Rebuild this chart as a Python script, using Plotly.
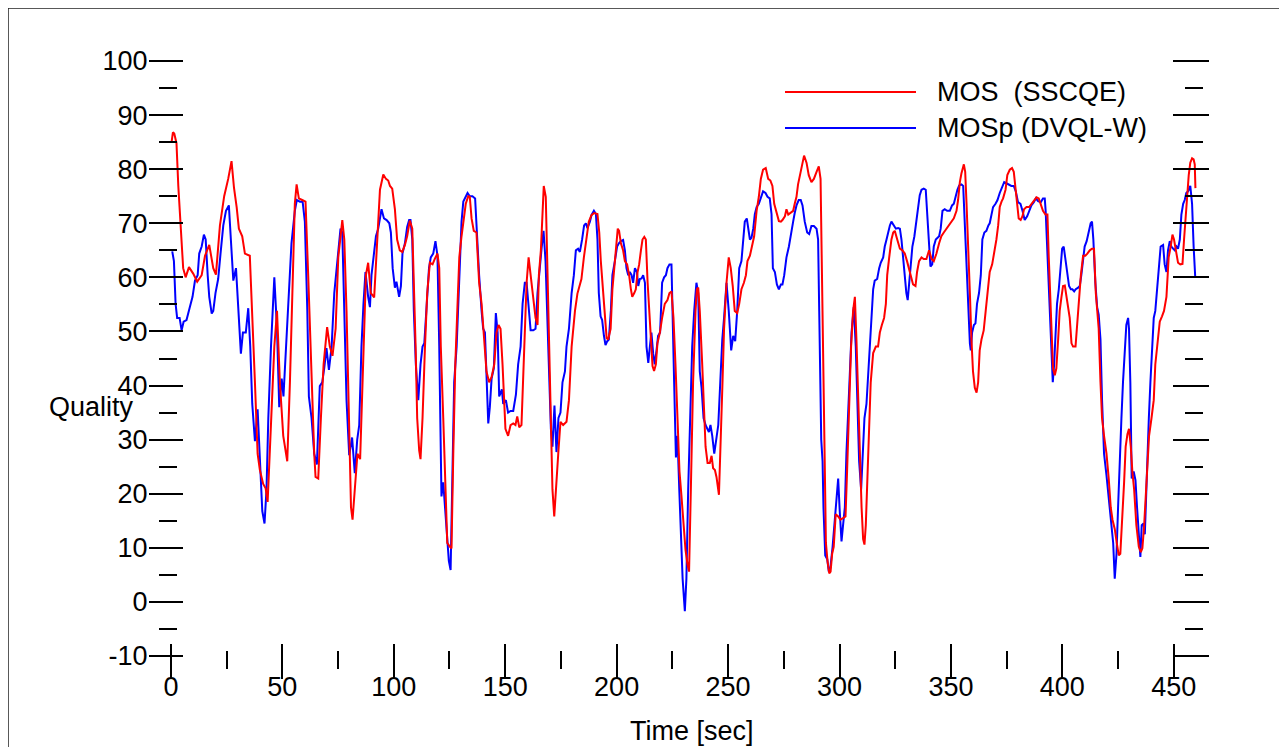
import plotly.graph_objects as go

# ---------------- data ----------------
time_mos = [0.3, 0.9, 1.5, 2.5, 3.3, 4.3, 5.5, 6.6, 8.1, 10.0, 11.8, 13.8, 15.3, 17.2, 19.0, 20.2, 22.0, 23.9, 25.7, 27.2,
            28.3, 29.5, 30.5, 32.0, 33.2, 35.4, 36.5, 37.7, 38.9, 39.9, 41.4, 42.5, 43.4, 44.9, 46.4, 47.6, 48.9, 50.4, 52.2, 53.4,
            54.6, 55.6, 56.4, 57.4, 58.9, 60.4, 61.6, 63.1, 64.3, 64.9, 66.1, 67.3, 68.5, 70.1, 71.3, 72.5, 73.9, 75.1, 76.9, 77.8,
            78.8, 79.9, 80.8, 81.5, 82.6, 83.7, 84.9, 86.3, 87.5, 88.5, 89.7, 91.2,
            92.6, 93.8, 95.3, 96.5, 97.5, 98.3, 99.3, 100.5, 101.5, 102.7, 103.8, 105.0, 106.0, 107.2, 108.3, 109.0, 109.8, 110.5,
            111.4, 112.0, 112.9, 114.0, 115.0, 116.2, 117.4, 118.4, 119.6, 120.4, 121.1, 122.2, 123.1, 124.0, 125.2, 125.9, 126.7,
            127.6, 128.5, 129.4, 130.4, 131.6, 132.3, 133.4, 134.1, 134.9, 135.9, 137.1, 138.3, 139.4, 140.6, 141.6, 142.8, 143.9,
            145.1, 146.1, 147.0, 147.9, 148.8, 149.7, 150.1, 151.3, 152.4, 153.6, 154.6, 155.4, 156.3, 157.3, 158.4, 159.6, 160.5,
            161.4, 162.6, 163.6, 164.5, 165.1, 166.0, 166.7, 167.3, 168.2, 169.3, 170.3, 171.2, 172.0, 172.7, 173.8, 174.8, 176.0,
            177.5, 178.6, 179.8, 181.3, 182.4, 183.5,
            184.2, 185.3, 186.5, 187.5, 188.7, 189.9, 191.4, 192.2, 192.9, 194.0, 194.7, 195.5, 196.2, 197.3, 198.1, 199.2, 199.9,
            200.5, 201.1, 201.9, 202.9, 203.7, 204.7, 205.6, 206.4, 207.0, 207.9, 208.6, 209.4, 210.1, 210.9, 211.6, 212.4, 213.1,
            213.9, 214.6, 215.3, 216.1, 216.8, 217.6, 218.3, 219.4, 220.4, 221.6, 222.8, 223.7, 224.6, 225.5, 226.4, 227.3, 228.2,
            229.1, 230.0, 230.9, 231.8, 232.5, 233.3, 234.3, 235.4, 236.0, 236.6, 237.3, 238.4, 239.3, 239.9, 240.8, 241.8, 242.6,
            243.3, 244.1, 244.8, 245.9, 246.6, 247.5, 248.2, 249.3, 250.3, 251.2, 252.1, 253.0, 254.1, 255.0, 256.0, 257.1, 258.0,
            258.7, 259.8, 260.8, 261.7, 262.8, 263.8, 264.7, 265.7, 266.9, 268.0, 269.0, 269.9, 270.7, 271.7, 272.8, 273.7,
            274.4, 275.5, 276.2, 277.0, 278.0, 279.2, 279.9, 280.7, 281.4, 282.5, 283.4, 284.1, 285.2, 286.2, 287.4, 288.5, 289.7,
            290.7, 291.5, 291.9, 292.4, 292.9, 293.4, 293.9, 294.6, 295.4, 296.0, 296.7, 297.4, 298.3, 299.4, 300.4, 301.6, 302.7,
            303.4, 304.3, 305.2, 306.1, 306.9, 307.6, 308.4, 309.1, 309.9, 310.6, 311.2, 311.8, 312.6, 313.3, 314.0, 315.1, 316.3,
            317.3, 318.1, 319.0, 320.0, 320.8, 321.4, 322.3, 323.3, 324.1, 324.8, 325.9, 327.1, 328.2, 329.3, 330.3, 331.2, 332.3,
            333.0, 334.1, 334.8, 335.7, 336.8, 337.8, 339.0, 340.2, 341.3, 342.3, 343.5, 344.7, 345.7, 346.8, 348.0, 349.2, 350.2,
            351.3, 352.5, 353.2, 354.0, 354.7, 355.8, 356.4, 357.0, 357.7, 358.5, 359.2, 359.9, 360.7, 361.5, 362.2, 362.9, 363.7,
            364.7, 365.6, 366.7, 367.4,
            368.5, 369.4, 370.4, 371.2, 371.9, 372.7, 373.4, 374.5, 375.3, 376.4, 377.4, 378.2, 378.9, 379.7, 380.4, 381.3, 382.1,
            382.8, 383.9, 385.1, 386.1, 387.3, 388.4, 389.4, 390.3, 391.3, 392.4, 393.3, 393.9, 394.5, 395.1, 395.8, 396.6, 397.3,
            398.1, 398.8, 399.6, 400.3, 401.1, 401.8, 402.6, 403.3, 404.1, 404.8, 405.9, 406.6, 407.4, 408.3, 409.3, 410.3, 411.2,
            412.3, 413.3, 414.2, 415.0, 415.7, 416.3, 417.1, 417.8, 418.7, 419.8, 420.8, 421.7, 422.5, 423.5, 424.4, 425.3, 426.0,
            426.8, 427.7, 428.4, 429.2, 429.9, 430.7, 431.4, 432.2, 433.2, 434.3, 435.2, 435.9, 436.7, 437.4, 438.2, 438.9, 440.0,
            441.0, 441.7, 442.6, 443.7, 444.7, 445.6, 446.7, 447.1, 447.7, 448.6, 449.4, 450.1, 450.9, 451.9, 452.9, 453.9, 454.6,
            455.4, 456.1, 456.7, 457.4, 458.2, 458.9, 459.4, 459.7]
mos = [85.0, 86.8, 86.6, 84.8, 77, 69, 61.7, 60, 61.9, 60.7, 59.2, 60.4, 64, 66, 61.7, 60.5, 69.6, 75, 78.2, 81.5,
       76.6, 73, 69, 67.6, 64.4, 64, 53.8, 40.6, 27.4, 24.4, 21.8, 21, 18.5, 34, 47.2, 53.8, 40.6, 30.7, 26, 40.6,
       60.4, 73.6, 77.2, 74.6, 74.3, 74, 60.4, 40.6, 27.4, 23.1, 22.8, 34, 43.9, 50.8, 47.2, 45.5, 50.5, 63.7, 70.6, 67,
       53.8, 34, 17.5, 15.2, 20.8, 27.4, 26.4, 43.9, 60.4, 62.7, 57.1, 56.3,
       67, 76.2, 79, 78.2, 77.9, 76.9, 76.4, 72.6, 67, 65, 64.7, 66, 67.6, 70.5, 69, 60.4, 47.2, 34,
       28, 26.4, 34, 47.2, 57.1, 62.7, 62.4, 63.4, 64.4, 61.7, 47.2, 34, 20.8, 10.9, 10.2, 9.9, 27.4,
       43.9, 53.8, 63.7, 67.6, 70.9, 73.6, 75, 74.9, 70.9, 68.6, 68.3, 59, 55.1, 47.2, 42.6, 40.6, 41.6,
       43.9, 49.8, 51.2, 50.5, 43.9, 37.3, 32, 30.7, 32.7, 33, 32.7, 34.3, 32.3, 32.7, 47.2, 59, 63.7,
       60.4, 55.1, 52.5, 51.2, 60.4, 65, 73.6, 76.9, 74.9, 53.8, 34, 20.8, 15.8, 20.8, 27.4, 33.3, 32.7,
       33.3, 37.3, 47.2, 53.8, 57, 58.6,
       59.7, 63.7, 67.6, 70.3, 71.5, 71.9, 71.7, 68.3, 63, 57.1, 52.5, 48.8, 48.5, 50.5, 57.8, 63, 65.7,
       69, 68.6, 66.3, 65, 63, 62.4, 60.4, 57.8, 56.4, 57.1, 57.8, 61, 62.4, 65, 67, 67.5, 67,
       59, 53.8, 48.5, 43.6, 42.7, 43.9, 47.8, 49.8, 52.5, 55.1, 55.8, 57.1, 57.4, 52.5, 43.9, 34, 24.1,
       19.5, 14.2, 9.6, 6.9, 5.6, 20.8, 40.6, 53.8, 57.8, 58.1, 53.8, 43.9, 34, 28.7, 25.7, 25.7, 27,
       24.7, 24.4, 23.1, 19.8, 27.4, 40.6, 50.5, 59, 63.7, 61.7, 58.4, 53.8, 53.4, 55.1, 57.8, 59, 60.4,
       63, 64, 65.7, 67.6, 72.3, 74.9, 78.2, 79.9, 80.2, 78.2, 77.9, 76.9, 73.6, 71.9, 70.4, 70.3,
       70.6, 71.3, 72.6, 71.6, 71.9, 72.3, 73.6, 74.9, 77.2, 79.5, 81.5, 82.5, 81.2, 78.9, 77.6, 78.2, 79.5,
       80.5, 78.2, 67, 47.2, 34, 20.8, 10.9, 7.6, 5.3, 5.6, 8.9, 10.2, 16.2, 15.8, 15.2, 15.5, 15.8,
       24.1, 37.3, 47.2, 53.8, 56.4, 48.5, 37.3, 27.4, 17.5, 11.6, 10.6, 14.2, 24.1, 34, 40.6, 46, 47.2,
       47.2, 49.8, 51.2, 52.5, 55.1, 60.4, 63.7, 67, 68.3, 68.6, 67, 65.3, 65, 64.4, 63, 61.4, 59.4,
       58.7, 58.4, 61, 63, 63.7, 63.4, 63.4, 65, 63.4, 63, 64.4, 66.3, 67.6, 68.3, 69, 69.6, 70.3,
       70.9, 72.3, 74.3, 77.6, 79.2, 80.9, 79.5, 73.6, 63.7, 57.1, 48.5, 42.6, 39.6, 38.7, 40.6, 46.5, 48.5,
       50.2, 53.8, 59, 61,
       62.4, 64.4, 67, 69.6, 73, 74, 74.6, 76.2, 78.9, 79.9, 80.2, 79.5, 76.9, 73, 70.9, 70.6, 71.3,
       72.6, 73, 73, 73.6, 74.3, 74.8, 74.6, 73.6, 72.3, 71.6, 71.6, 63.7, 57.1, 49.8, 43.2, 41.9, 43.2,
       48.5, 53.8, 56.4, 58.4, 58.5, 56.4, 54.4, 52.5, 47.8, 47.2, 47.2, 51.2, 57.1, 60.4, 64, 64, 64.4,
       65, 65.3, 65.3, 57.1, 53.8, 50.5, 40.6, 34, 30.7, 27.4, 22.8, 17.5, 15.2, 13.5, 10.9, 8.6, 8.9,
       14.2, 22.1, 28.7, 31, 32, 28.7, 24.1, 20.8, 14.2, 10.2, 9.2, 9.9, 14.2, 19.5, 27.4, 30.7, 34,
       37.3, 43.9, 47.8, 51.8, 52.8, 53.8, 56.4, 59, 63.7, 65.7, 67.9, 67, 65, 62.7, 62.4, 62.5, 67,
       72.3, 74.9, 78.9, 81.2, 82, 81.8, 80.9, 76.5]

time_mosp = [0.6, 1.35, 2.1, 2.8, 3.9, 4.8, 5.7, 7.0, 8.5, 9.7, 10.8, 12.0, 12.7, 13.8, 14.8, 15.6, 16.5, 17.2, 18.3, 19.0,
             20.0, 21.2, 22.4, 23.5, 24.7, 26.0, 26.9, 28.0, 29.2, 30.2, 31.4, 32.3, 33.6, 34.7, 35.6, 36.5, 37.7, 38.9, 39.9, 41.0,
             42.0, 42.9, 43.7, 44.9, 46.4, 47.6, 48.6, 49.7, 50.5, 51.6, 52.9, 54.1, 55.6, 56.5, 57.9, 59.1, 60.1, 61.2, 61.9, 63.1,
             64.3, 65.5, 66.8, 67.9, 68.8, 69.8, 70.9, 72.1, 73.3, 74.6, 76.1, 76.9, 77.8, 78.8, 80.0, 81.3, 82.5, 83.6, 84.5, 85.5,
             86.4, 87.3, 88.5, 89.3,
             90.0, 91.1, 92.0, 93.0, 93.8, 94.5, 95.6, 96.8, 98.0, 98.7, 99.5, 100.5, 101.2, 102.4, 103.2, 103.9, 105.0, 106.0,
             106.9, 107.5, 108.3, 109.0, 109.9, 111.0, 112.0, 112.9, 113.7, 114.7, 115.8, 116.6, 117.7, 118.7, 119.6, 120.4, 121.0,
             121.4, 122.2, 122.9, 124.0, 124.7, 125.5, 126.4, 127.1, 128.2, 129.4, 130.4, 131.2, 132.2, 133.1, 134.1, 135.3, 136.5,
             137.4, 138.3, 139.4, 140.1, 140.9, 141.6, 142.4, 143.1, 143.9, 144.9, 145.8, 146.6, 147.3, 147.9, 148.5, 149.1, 150.3,
             151.3, 152.4, 153.6, 154.8, 155.8, 156.9, 157.8, 158.8, 159.6, 160.5, 161.4, 162.6, 163.6, 164.5, 165.5, 166.4, 167.2,
             168.1, 168.8, 169.7, 170.5, 171.2, 172.1, 173.0, 173.9, 174.8, 175.7, 176.8, 177.5, 178.6, 179.8, 180.8, 181.7, 182.7,
             183.5,
             184.5, 185.4, 186.2, 186.9, 188.0, 188.7, 189.8, 190.7, 191.4, 192.0, 192.8, 193.5, 194.3, 195.0, 195.8, 196.5, 197.4,
             198.1, 199.2, 200.2, 201.0, 201.9, 202.9, 203.7, 204.4, 205.2, 205.9, 206.7, 207.4, 208.2, 209.1, 209.7, 210.4, 211.2,
             211.9, 212.7, 213.4, 214.2, 214.9, 215.6, 216.4, 217.1, 217.9, 218.6, 219.5, 220.4, 221.3, 222.1, 222.8, 223.7, 224.6,
             225.2, 225.8, 226.6, 227.3, 228.1, 228.8, 229.6, 230.6, 231.3, 232.1, 233.0, 233.9, 234.8, 235.8, 236.6, 237.3, 238.1,
             239.0, 239.9, 240.8, 241.4, 242.1, 242.9, 243.8, 244.7, 245.6, 246.5, 247.4, 248.2, 249.3, 250.3, 251.4, 252.3, 253.2,
             254.1, 255.0, 256.0, 256.8, 257.5, 258.4, 259.0, 259.8, 260.5, 261.3, 262.0, 262.8, 263.8, 264.7, 265.7, 266.8, 267.7,
             268.7, 269.5, 270.1, 271.0, 271.9, 272.8, 273.7,
             274.4, 275.2, 276.2, 277.3, 278.2, 279.2, 279.9, 280.7, 281.7, 282.6, 283.4, 284.4, 285.5, 286.4, 287.4, 288.5, 289.7,
             290.4, 290.9, 291.3, 291.8, 292.4, 292.8, 293.6, 294.5, 295.2, 295.9, 296.9, 297.6, 298.3, 299.4, 300.1, 300.9, 301.6,
             302.4, 303.1, 303.9, 304.6, 305.4, 306.4, 307.3, 308.1, 308.8, 309.7, 310.3, 311.2, 312.1, 312.8, 313.6, 314.3, 315.1,
             315.8, 316.9, 317.8, 318.5, 319.6, 320.3, 321.1, 321.8, 322.6, 323.3, 324.4, 325.3, 326.3, 327.1, 327.8, 328.5, 329.3,
             330.0, 330.6, 331.2, 332.0, 332.7, 333.6, 334.5, 335.3, 336.0, 336.8, 337.8, 338.7, 339.3, 340.1, 340.8, 341.6, 342.3,
             343.2, 343.9, 344.7, 345.4, 346.2, 347.2, 348.3, 349.5, 350.5, 351.3, 352.0, 352.9, 353.7, 354.7, 355.5, 356.2, 357.0,
             357.7, 358.5, 358.9, 359.5, 360.3, 361.0, 361.7, 362.6, 363.4, 364.1, 365.0, 365.9, 366.8, 367.4,
             368.2, 368.9, 370.0, 370.9, 371.9, 373.0, 373.9, 374.9, 376.0, 377.1, 378.2, 379.1, 380.1, 381.2, 382.1, 383.1, 384.2,
             385.1, 386.1, 387.2, 388.1, 389.1, 390.3, 391.3, 392.1, 392.5, 393.3, 393.9, 394.5, 395.1, 395.7, 396.3, 396.9, 397.6,
             398.4, 399.1, 399.9, 400.6, 401.4, 402.3, 403.0, 403.8, 404.5, 405.3, 406.0, 407.1, 407.8, 408.5, 409.3, 410.0, 410.9,
             411.8, 412.7, 413.3, 413.9, 414.8, 415.6, 416.3, 417.1, 417.8, 418.7, 419.8, 420.8, 421.7, 422.8, 423.5, 424.3, 425.0,
             425.7, 426.5, 427.2, 428.0, 428.7, 429.5, 429.9, 430.5, 431.1, 432.0, 432.8, 433.5, 434.3, 435.0, 435.6, 436.4, 437.0,
             437.6, 438.2, 438.8, 439.5, 440.3, 441.0, 441.7, 442.6, 443.2, 444.1, 445.2, 445.9, 446.7, 447.4, 448.2, 448.9, 449.7,
             450.4, 451.2, 451.9, 452.7, 453.4, 454.2, 454.9, 455.6, 456.4, 457.4, 458.2, 458.9, 459.6]
mosp = [64.8, 63, 55.1, 52.5, 52.5, 50.2, 51.8, 52.1, 54.5, 56.4, 59.4, 60.4, 64.4, 65.7, 67.9, 67, 60.4, 56.4, 53.3, 53.8,
        57.1, 59.7, 65, 69.6, 72.3, 73.3, 67, 59.4, 61.7, 53.8, 45.9, 49.8, 49.8, 54.3, 47.2, 36.6, 29.7, 35.6, 27.4, 16.8,
        14.5, 20.8, 34, 47.2, 60, 50.5, 36, 41.3, 38, 47.2, 57.1, 66.3, 72.3, 74.3, 74, 74, 70.3, 53.8, 38, 34,
        27.4, 25.4, 39.9, 40.6, 43.2, 46.9, 42.9, 47.2, 57.1, 63, 69, 68.3, 50.5, 37.3, 27.1, 30.4, 23.8, 30, 32.7, 47.2,
        55.1, 61, 56.4, 54.5,
        60.4, 64.4, 67.6, 69, 70.9, 72.6, 70.9, 70.6, 70, 68.3, 61.7, 58.1, 59.2, 56.4, 58.4, 64.4, 66.3, 69.3,
        70.6, 70.6, 67, 53.8, 43.9, 37.3, 43.9, 47.2, 47.8, 55.1, 61.7, 63.7, 64.4, 66.7, 64, 47.2, 34,
        19.5, 22.1, 17.5, 11.6, 7.6, 5.9, 24.1, 40.6, 47.2, 58.4, 70.3, 74, 75, 75.6, 75, 75, 74.6,
        67, 60.4, 53.8, 50.5, 49.8, 40.6, 33, 36, 41.3, 43.2, 53.4, 49.8, 38, 38.6, 39.3, 36.6, 37.3,
        35, 35.3, 35.3, 38.3, 43.9, 47.2, 55.1, 59, 59, 53.8, 50.2, 50.2, 50.5, 57.1, 62.4, 65.7, 68.6,
        63, 53.8, 40.6, 32, 28.7, 36.3, 27.7, 34, 35, 40.6, 42.6, 47.2, 50.5, 57.1, 60.4, 65, 65.3,
        64.7,
        67, 69.6, 70, 69.1, 70.3, 71.5, 72.3, 71.7, 67, 57.1, 52.8, 52.1, 49.2, 47.5, 48.2, 48.5, 53.8,
        60.4, 63, 65.7, 66.3, 66.7, 66.9, 65, 61.7, 60.4, 61, 60.4, 59, 61.7, 61, 58.4, 59.7, 59.8,
        60.4, 59, 47.2, 44.2, 47.2, 49.8, 45.9, 43.9, 46.5, 49.2, 49.8, 59, 60, 60.4, 61.7, 62.4, 62.4,
        53.8, 40.6, 26.7, 30.7, 20.8, 10.9, 4.3, -1.7, 4.3, 20.8, 34, 47.2, 53.8, 59, 57.1, 42.6, 39.6,
        34, 32.7, 32, 31.4, 32.7, 30.7, 27.4, 30, 32.7, 40.6, 48.5, 52.5, 59, 53.8, 46.5, 49.2, 48.2,
        53.8, 61.7, 63, 67, 70.3, 70.9, 69.3, 67, 67.3, 69, 71.7, 73, 73.6, 74.9, 75.9, 75.6, 74.9,
        74.6, 71.7, 61.7, 61, 58.7, 57.8, 58.7,
        58.7, 60.4, 63.7, 65.7, 68.3, 70.3, 71.9, 73.3, 74.3, 74.3, 73.3, 70.3, 68.3, 68, 69.5, 69.5, 69,
        67, 53.8, 40.6, 30, 26, 17.5, 8.6, 7.9, 5.6, 6.3, 10.2, 14.2, 17.5, 22.8, 16.8, 11.2, 14.2,
        17.5, 27.4, 37.3, 41.9, 49.8, 54.5, 47.2, 34, 26, 20.8, 27.4, 34, 36.6, 41.9, 48.5, 53.8, 57.8,
        59.4, 59.7, 61.7, 62.7, 63.7, 65.7, 67, 68.3, 69.6, 70.3, 69.6, 69, 69.1, 69, 67, 63.7, 60.4,
        57.1, 55.8, 59, 63.7, 65.7, 67.6, 70.9, 73, 75.2, 76.2, 76.4, 76.2, 72.3, 65, 62, 62.4, 65.7,
        67, 67.3, 67.6, 69, 72.3, 72.6, 72.3, 72.3, 73.3, 73.6, 74.9, 76.2, 77, 77.2, 76.9, 70.3, 60.4,
        53.8, 47.8, 46.5, 49.8, 51.2, 51.5, 55.1, 57.1, 60.4, 67, 68.3, 68.6, 69.6, 70,
        71.6, 73, 73.6, 74.3, 75.6, 76.9, 77.6, 77.4, 77.2, 76.9, 76.9, 75.9, 73.9, 73.6, 72.3, 70.6, 71.3,
        72.3, 73.3, 73.9, 74.6, 74.1, 73.9, 74.6, 74.6, 72.3, 63.7, 57.1, 50.5, 43.9, 40.6, 43.9, 48.5, 55.1,
        57.8, 61.7, 65.3, 65.7, 63, 59.7, 58.4, 57.8, 57.8, 57.4, 57.8, 58.1, 58.4, 60.4, 63, 65.7, 66.7,
        68.3, 70, 70.3, 67, 59, 54.5, 53.1, 48.5, 37.3, 27.4, 23.4, 19.5, 14.8, 10.9, 4.3, 8.9, 17.5,
        27.4, 34, 40.6, 46, 51.2, 52.5, 50.5, 40.6, 22.8, 24.1, 22.5, 17.5, 12.2, 8.3, 14.2, 14.5, 12.5,
        20.8, 27.4, 34, 40.6, 47.2, 52.5, 53.8, 59, 61, 65.7, 66, 62.4, 61, 65, 66.7, 65.7, 65.3,
        65, 65.7, 65.3, 67, 71.6, 73.6, 74.3, 75.6, 75.9, 76.9, 73.6, 65.7, 60.2]

series_names = ["MOS\u00a0 (SSCQE)", "MOSp (DVQL-W)"]
series_colors = ["#ff0000", "#0000ff"]
x_title = "Time [sec]"
y_title = "Quality"
x_tick_vals = [0, 50, 100, 150, 200, 250, 300, 350, 400, 450]
x_tick_text = ["0", "50", "100", "150", "200", "250", "300", "350", "400", "450"]
x_minor_vals = [25, 75, 125, 175, 225, 275, 325, 375, 425]
y_tick_vals = [-10, 0, 10, 20, 30, 40, 50, 60, 70, 80, 90, 100]
y_tick_text = ["-10", "0", "10", "20", "30", "40", "50", "60", "70", "80", "90", "100"]
y_minor_vals = [-5, 5, 15, 25, 35, 45, 55, 65, 75, 85, 95]
x_range = [-4, 464]
y_range = [-10, 100]

# ---------------- layout helpers ----------------
# the page body has an 8 px margin, so the figure is 8 px smaller and positions
# below are given in page pixels of the 1287x747 window
OFF = 8
W, H = 1287 - OFF, 747 - OFF
L, R, T, B = 154, 82, 53, 91
PW = W - L - R
PH = H - T - B


def px_x(px):
    return (px - OFF - L) / PW


def px_y(py):
    return (H - B - (py - OFF)) / PH


FONT = dict(family="Liberation Sans, Arial, sans-serif", size=27, color="black")

fig = go.Figure()
fig.add_trace(go.Scatter(x=time_mosp, y=mosp, mode="lines", name=series_names[1],
                         line=dict(color=series_colors[1], width=2), showlegend=False))
fig.add_trace(go.Scatter(x=time_mos, y=mos, mode="lines", name=series_names[0],
                         line=dict(color=series_colors[0], width=2), showlegend=False))
# empty traces so the extra tick-only axes are drawn
for xa, ya in [("x2", "y"), ("x", "y2"), ("x", "y3"), ("x", "y4")]:
    fig.add_trace(go.Scatter(x=[], y=[], xaxis=xa, yaxis=ya, mode="lines", showlegend=False, hoverinfo="skip"))

tick_common = dict(showgrid=False, zeroline=False, showline=False, tickcolor="black", tickwidth=1.6,
                   tickmode="array", ticks="outside")

fig.update_layout(
    width=W, height=H,
    margin=dict(l=L, r=R, t=T, b=B),
    paper_bgcolor="white", plot_bgcolor="white",
    font=FONT,
    # bottom: major ticks 643..678, minor ticks 650..668 (page px)
    xaxis=dict(range=x_range, anchor="free", position=px_y(643), tickvals=x_tick_vals, ticktext=x_tick_text,
               ticklen=35, tickfont=FONT, ticklabelstandoff=-15, **tick_common),
    xaxis2=dict(range=x_range, overlaying="x", anchor="free", position=px_y(650), tickvals=x_minor_vals,
                ticklen=18, showticklabels=False, **tick_common),
    # left: major ticks 149..183, minor ticks 159..177
    yaxis=dict(range=y_range, anchor="free", position=px_x(183), tickvals=y_tick_vals, ticktext=y_tick_text,
               ticklen=34, tickfont=FONT, ticklabelstandoff=-4, **tick_common),
    yaxis2=dict(range=y_range, overlaying="y", anchor="free", position=px_x(177), tickvals=y_minor_vals,
                ticklen=18, showticklabels=False, **tick_common),
    # right: major ticks 1172..1208, minor ticks 1184..1202
    yaxis3=dict(range=y_range, overlaying="y", anchor="free", side="right", position=px_x(1172),
                tickvals=y_tick_vals, ticklen=36, showticklabels=False, **tick_common),
    yaxis4=dict(range=y_range, overlaying="y", anchor="free", side="right", position=px_x(1184),
                tickvals=y_minor_vals, ticklen=18, showticklabels=False, **tick_common),
)

shapes = [
    dict(type="rect", xref="paper", yref="paper", x0=px_x(8), x1=px_x(1320), y0=px_y(790), y1=px_y(8),
         line=dict(color="#222222", width=1.5), fillcolor="rgba(0,0,0,0)", layer="below"),
]
annotations = [
    dict(text=y_title, xref="paper", yref="paper", x=px_x(91), y=px_y(407), xanchor="center", yanchor="middle",
         showarrow=False, font=FONT),
    dict(text=x_title, xref="paper", yref="paper", x=px_x(692), y=px_y(731), xanchor="center", yanchor="middle",
         showarrow=False, font=FONT),
]
for i, (name, col) in enumerate(zip(series_names, series_colors)):
    ly = 92 + i * 36
    shapes.append(dict(type="line", xref="paper", yref="paper", x0=px_x(785), x1=px_x(916),
                       y0=px_y(ly), y1=px_y(ly), line=dict(color=col, width=2)))
    annotations.append(dict(text=name, xref="paper", yref="paper", x=px_x(935), y=px_y(ly),
                            xanchor="left", yanchor="middle", showarrow=False, font=FONT))

fig.update_layout(shapes=shapes, annotations=annotations)
fig.write_html("out.html")
